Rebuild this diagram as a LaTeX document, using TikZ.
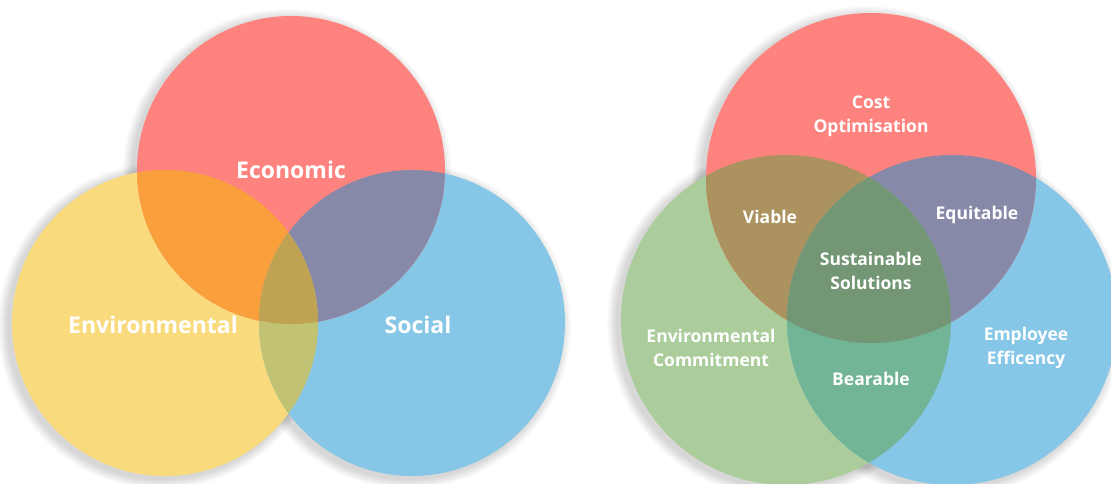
\documentclass[tikz,border=0pt]{standalone}
\usepackage{fontspec}
\setmainfont{Open Sans}
\begin{document}
\begin{tikzpicture}[x=1pt,y=-1pt,
  lbl/.style={text=white,font=\bfseries\fontsize{23}{26}\selectfont,inner sep=0pt},
  slbl/.style={text=white,font=\bfseries\fontsize{17.5}{24}\selectfont,inner sep=0pt,align=center}]
\definecolor{cred}{HTML}{FE827E}
\definecolor{cyel}{HTML}{F9DA7C}
\definecolor{cblue}{HTML}{86C6E6}
\definecolor{cgreen}{HTML}{ABCD9B}
\definecolor{cRY}{HTML}{F9A03C}
\definecolor{cRB}{HTML}{8789A8}
\definecolor{cYB}{HTML}{C1C372}
\definecolor{cRYB}{HTML}{C0A352}
\definecolor{cRG}{HTML}{AB925F}
\definecolor{cGB}{HTML}{72B496}
\definecolor{cRGB}{HTML}{739675}
\fill[white] (0,0) rectangle (1111,484);
\useasboundingbox (0,0) rectangle (1111,484);
% centres
\coordinate (lr) at (291,170);
\coordinate (ly) at (165,323);
\coordinate (lb) at (412,323);
\coordinate (rr) at (871,178);
\coordinate (rg) at (786,320);
\coordinate (rb) at (952,320);
% soft shadows
\foreach \c/\r in {lr/154,ly/153,lb/153,rr/165,rg/165,rb/165}{
  \foreach \i in {0,...,9}{
    \fill[black,opacity=0.016] ([xshift=-4pt,yshift=-3pt]\c) circle ({\r+10-\i});
  }
}
% ---------- left diagram ----------
\fill[cyel] (ly) circle (153);
\fill[cblue] (lb) circle (153);
\fill[cred] (lr) circle (154);
\begin{scope}\clip (lr) circle (154); \fill[cRY] (ly) circle (153);\end{scope}
\begin{scope}\clip (lr) circle (154); \fill[cRB] (lb) circle (153);\end{scope}
\begin{scope}\clip (ly) circle (153); \fill[cYB] (lb) circle (153);\end{scope}
\begin{scope}\clip (lr) circle (154); \clip (ly) circle (153); \fill[cRYB] (lb) circle (153);\end{scope}
\node[lbl] (eco) at (291,170) {Economic};
\node[lbl] (env) at (153,325) {Environmental};
\node[lbl] (soc) at (418,325) {Social};
% ---------- right diagram ----------
\fill[cgreen] (rg) circle (165);
\fill[cblue] (rb) circle (165);
\fill[cred] (rr) circle (165);
\begin{scope}\clip (rr) circle (165); \fill[cRG] (rg) circle (165);\end{scope}
\begin{scope}\clip (rr) circle (165); \fill[cRB] (rb) circle (165);\end{scope}
\begin{scope}\clip (rg) circle (165); \fill[cGB] (rb) circle (165);\end{scope}
\begin{scope}\clip (rr) circle (165); \clip (rg) circle (165); \fill[cRGB] (rb) circle (165);\end{scope}
\node[slbl] (cost) at (871,116) {Cost\\Optimisation};
\node[slbl] (via) at (770,217) {Viable};
\node[slbl] (equ) at (977,215) {Equitable};
\node[slbl] (sus) at (871,271) {Sustainable\\Solutions};
\node[slbl] (envc) at (711,348) {Environmental\\Commitment};
\node[slbl] (bear) at (871,379) {Bearable};
\node[slbl] (emp) at (1026,348) {Employee\\Efficency};
\end{tikzpicture}
\end{document}
